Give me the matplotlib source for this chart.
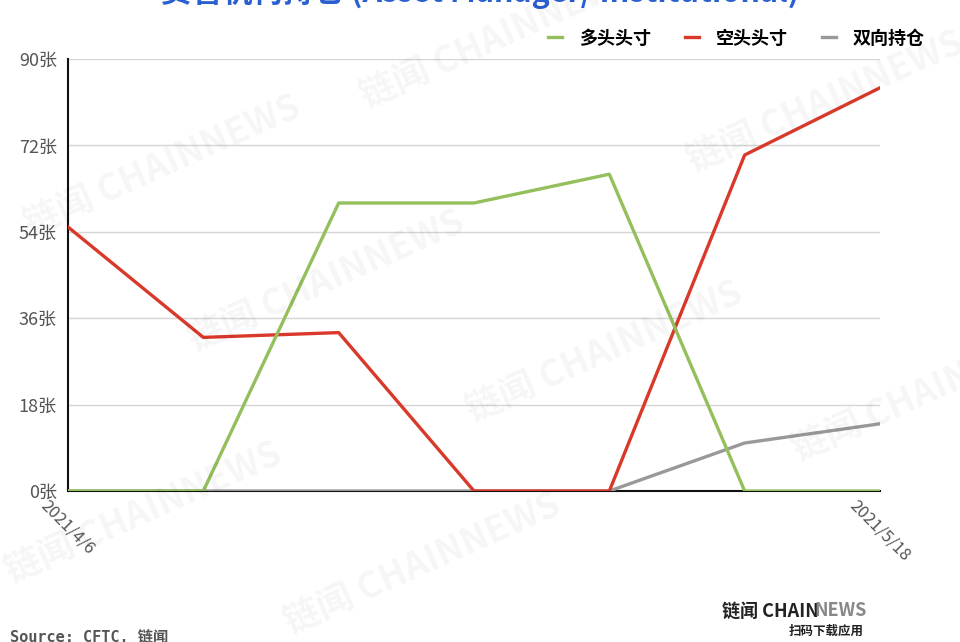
import matplotlib.pyplot as plt

plt.rcParams['font.family'] = ['Noto Sans CJK SC', 'DejaVu Sans']

dates = ["2021/4/6", "2021/4/13", "2021/4/20", "2021/4/27", "2021/5/4", "2021/5/11", "2021/5/18"]
long_pos = [0, 0, 60, 60, 66, 0, 0]
short_pos = [55, 32, 33, 0, 0, 70, 84]
spread_pos = [0, 0, 0, 0, 0, 10, 14]
yticks = [0, 18, 36, 54, 72, 90]

fig = plt.figure(figsize=(9.6, 6.42), dpi=100)
ax = fig.add_axes([68 / 960, 1 - 491 / 642, 812 / 960, 432 / 642])

x = list(range(len(dates)))
ax.plot(x, spread_pos, color="#999999", lw=2.4, zorder=3, label="双向持仓")
ax.plot(x, short_pos, color="#d9392b", lw=2.4, zorder=4, label="空头头寸")
ax.plot(x, long_pos, color="#93c05c", lw=2.4, zorder=5, label="多头头寸")

ax.set_xlim(0, len(dates) - 1)
ax.set_ylim(0, 90)
ax.set_yticks(yticks)
ax.set_yticklabels([f"{v}张" for v in yticks], color="#555555", fontsize=13)
ax.set_xticks([0, len(dates) - 1])
ax.set_xticklabels([dates[0], dates[-1]], rotation=-45, ha="center", va="top",
                   color="#555555", fontsize=12)
ax.tick_params(length=0, pad=8)
ax.tick_params(axis="x", pad=4)
ax.grid(axis="y", color="#d5d5d5", lw=1)
for s in ["top", "right"]:
    ax.spines[s].set_visible(False)
ax.spines["left"].set_color("#111111")
ax.spines["bottom"].set_color("#111111")
ax.spines["left"].set_linewidth(1.5)
ax.spines["bottom"].set_linewidth(1.5)

h, l = ax.get_legend_handles_labels()
order = [2, 1, 0]
ax.legend([h[i] for i in order], [l[i] for i in order], loc="center right",
          bbox_to_anchor=(1.075, 1 + 21 / 432), ncol=3, frameon=False,
          handlelength=0.8, columnspacing=1.9, handletextpad=0.9,
          prop={"weight": "bold", "size": 13})

# title is cut off at the top edge of the image, as in the source
fig.text(0.5, 1.012, "资管机构持仓 (Asset Manager/ Institutional)", ha="center",
         va="center", color="#2a5fd0", fontsize=22, weight="bold")

# watermarks
wm = [(0.02, 0.62), (0.19, 0.44), (0.37, 0.82), (0.48, 0.33), (0.71, 0.72),
      (0.82, 0.27), (0.0, 0.08), (0.29, 0.0)]
for wx, wy in wm:
    fig.text(wx, wy, "链闻 CHAINNEWS", rotation=24, color="#000000", alpha=0.04,
             fontsize=26, weight="bold", ha="left", va="bottom")

fig.text(10 / 960, 1 - 637 / 642, "Source: CFTC, 链闻", fontsize=11,
         color="#555555", family=["DejaVu Sans Mono", "Noto Sans CJK SC"],
         va="center", weight="bold")
fig.text(722 / 960, 1 - 611 / 642, "链闻 CHAIN", fontsize=13, weight="bold",
         color="#222222", va="center")
fig.text(814 / 960, 1 - 611 / 642, "NEWS", fontsize=13, weight="bold",
         color="#888888", va="center")
fig.text(864 / 960, 1 - 631 / 642, "扫码下载应用", fontsize=9, weight="bold",
         color="#222222", va="center", ha="right")

fig.savefig("out.png", dpi=100)
